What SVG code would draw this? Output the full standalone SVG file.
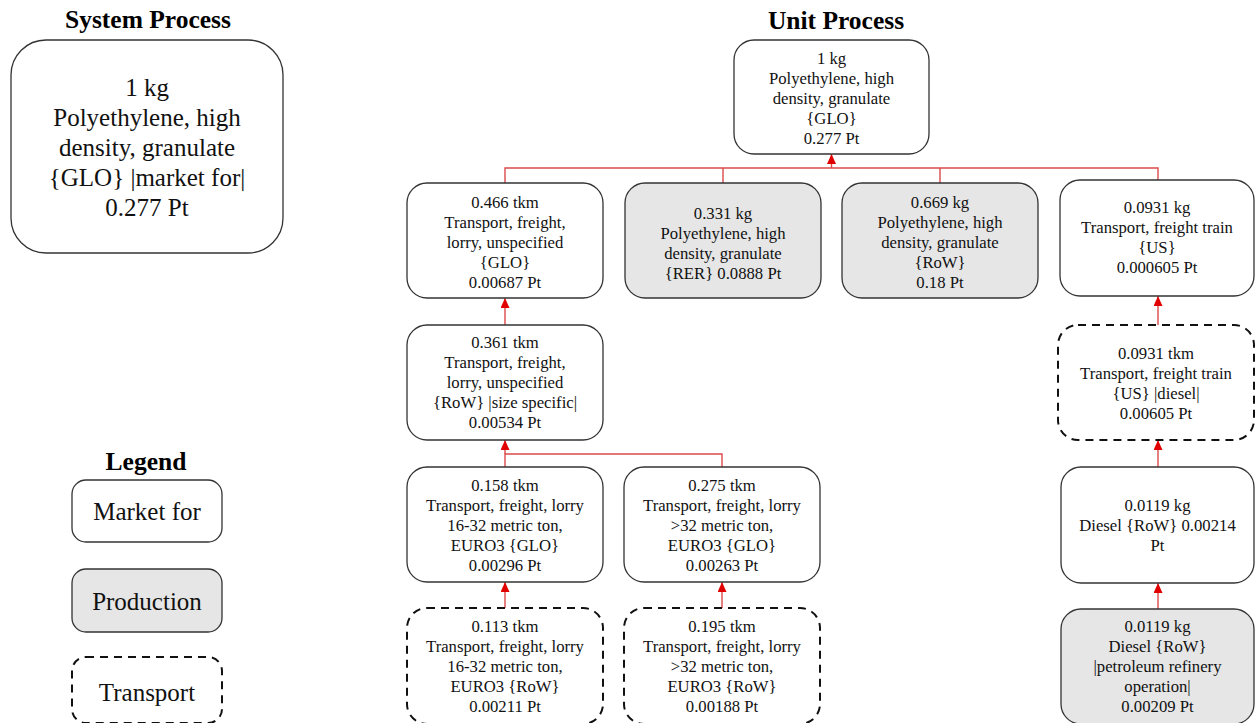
<svg xmlns="http://www.w3.org/2000/svg" width="1255" height="723" viewBox="0 0 1255 723">
<style>
  .box{fill:#ffffff;stroke:#333333;stroke-width:1.3}
  .prod{fill:#e6e6e6;stroke:#333333;stroke-width:1.3}
  .dash{fill:#ffffff;stroke:#111111;stroke-width:2;stroke-dasharray:8 6}
  .t{font-family:"Liberation Serif","Times New Roman",serif;font-size:16.7px;fill:#111111;text-anchor:middle}
  .big{font-family:"Liberation Serif","Times New Roman",serif;font-size:25px;fill:#111111;text-anchor:middle}
  .title{font-family:"Liberation Serif","Times New Roman",serif;font-size:25.5px;font-weight:bold;fill:#000000;text-anchor:middle}
  .conn{fill:none;stroke:#dc4a4a;stroke-width:1.4}
</style>
<defs>
  <marker id="arr" markerUnits="userSpaceOnUse" markerWidth="10" markerHeight="9" refX="10" refY="4.5" orient="auto" viewBox="0 0 10 9">
    <path d="M0,0 L10,4.5 L0,9 Z" fill="#e00000"/>
  </marker>
</defs>

<text class="title" x="148" y="28">System Process</text>
<text class="title" x="836" y="29">Unit Process</text>
<text class="title" x="146" y="470">Legend</text>

<g id="connectors">
  <path class="conn" d="M505,183 V168 H1158 V180"/>
  <path class="conn" d="M723,168 V183"/>
  <path class="conn" d="M940,168 V183"/>
  <line class="conn" x1="831.5" y1="168" x2="831.5" y2="154" marker-end="url(#arr)"/>
  <line class="conn" x1="505" y1="325" x2="505" y2="298" marker-end="url(#arr)"/>
  <path class="conn" d="M505,467 V454 H722 V467"/>
  <line class="conn" x1="505" y1="454" x2="505" y2="440" marker-end="url(#arr)"/>
  <line class="conn" x1="505" y1="608" x2="505" y2="582" marker-end="url(#arr)"/>
  <line class="conn" x1="722" y1="608" x2="722" y2="582" marker-end="url(#arr)"/>
  <line class="conn" x1="1158" y1="325" x2="1158" y2="296" marker-end="url(#arr)"/>
  <line class="conn" x1="1158" y1="467" x2="1158" y2="440" marker-end="url(#arr)"/>
  <line class="conn" x1="1158" y1="609" x2="1158" y2="583" marker-end="url(#arr)"/>
</g>

<g id="system-process">
  <rect class="box" x="11" y="40" width="272" height="213" rx="35"/>
  <text class="big" x="147" y="96">1 kg</text>
  <text class="big" x="147" y="126">Polyethylene, high</text>
  <text class="big" x="147" y="156">density, granulate</text>
  <text class="big" x="147" y="186">{GLO} |market for|</text>
  <text class="big" x="147" y="216">0.277 Pt</text>
</g>

<g id="legend-market">
  <rect class="box" x="72" y="480" width="150" height="62" rx="14"/>
  <text class="big" x="147" y="520">Market for</text>
</g>
<g id="legend-production">
  <rect class="prod" x="72" y="569" width="150" height="63" rx="14"/>
  <text class="big" x="147" y="610">Production</text>
</g>
<g id="legend-transport">
  <rect class="dash" x="72" y="657" width="150" height="66" rx="14"/>
  <text class="big" x="147" y="701">Transport</text>
</g>

<g id="n-top">
  <rect class="box" x="734" y="40" width="195" height="114" rx="20"/>
  <text class="t" x="831.5" y="64">1 kg</text>
  <text class="t" x="831.5" y="84">Polyethylene, high</text>
  <text class="t" x="831.5" y="104">density, granulate</text>
  <text class="t" x="831.5" y="124">{GLO}</text>
  <text class="t" x="831.5" y="144">0.277 Pt</text>
</g>

<g id="n-lorry-glo">
  <rect class="box" x="407" y="183" width="196" height="115" rx="20"/>
  <text class="t" x="505" y="208">0.466 tkm</text>
  <text class="t" x="505" y="228">Transport, freight,</text>
  <text class="t" x="505" y="248">lorry, unspecified</text>
  <text class="t" x="505" y="268">{GLO}</text>
  <text class="t" x="505" y="288">0.00687 Pt</text>
</g>

<g id="n-pe-rer">
  <rect class="prod" x="625" y="183" width="196" height="115" rx="20"/>
  <text class="t" x="723" y="219">0.331 kg</text>
  <text class="t" x="723" y="239">Polyethylene, high</text>
  <text class="t" x="723" y="259">density, granulate</text>
  <text class="t" x="723" y="279">{RER} 0.0888 Pt</text>
</g>

<g id="n-pe-row">
  <rect class="prod" x="842" y="183" width="196" height="115" rx="20"/>
  <text class="t" x="940" y="208">0.669 kg</text>
  <text class="t" x="940" y="228">Polyethylene, high</text>
  <text class="t" x="940" y="248">density, granulate</text>
  <text class="t" x="940" y="268">{RoW}</text>
  <text class="t" x="940" y="288">0.18 Pt</text>
</g>

<g id="n-train-us">
  <rect class="box" x="1060" y="180" width="194" height="116" rx="20"/>
  <text class="t" x="1157" y="213">0.0931 kg</text>
  <text class="t" x="1157" y="233">Transport, freight train</text>
  <text class="t" x="1157" y="253">{US}</text>
  <text class="t" x="1157" y="273">0.000605 Pt</text>
</g>

<g id="n-lorry-row">
  <rect class="box" x="407" y="325" width="196" height="115" rx="20"/>
  <text class="t" x="505" y="348">0.361 tkm</text>
  <text class="t" x="505" y="368">Transport, freight,</text>
  <text class="t" x="505" y="388">lorry, unspecified</text>
  <text class="t" x="505" y="408">{RoW} |size specific|</text>
  <text class="t" x="505" y="428">0.00534 Pt</text>
</g>

<g id="n-train-diesel">
  <rect class="dash" x="1058" y="325" width="196" height="115" rx="20"/>
  <text class="t" x="1156" y="359">0.0931 tkm</text>
  <text class="t" x="1156" y="379">Transport, freight train</text>
  <text class="t" x="1156" y="399">{US} |diesel|</text>
  <text class="t" x="1156" y="419">0.00605 Pt</text>
</g>

<g id="n-diesel-row">
  <rect class="box" x="1061" y="467" width="193" height="116" rx="20"/>
  <text class="t" x="1157.5" y="511">0.0119 kg</text>
  <text class="t" x="1157.5" y="531">Diesel {RoW} 0.00214</text>
  <text class="t" x="1157.5" y="551">Pt</text>
</g>

<g id="n-lorry1632-glo">
  <rect class="box" x="407" y="467" width="196" height="115" rx="20"/>
  <text class="t" x="505" y="491">0.158 tkm</text>
  <text class="t" x="505" y="511">Transport, freight, lorry</text>
  <text class="t" x="505" y="531">16-32 metric ton,</text>
  <text class="t" x="505" y="551">EURO3 {GLO}</text>
  <text class="t" x="505" y="571">0.00296 Pt</text>
</g>

<g id="n-lorry32-glo">
  <rect class="box" x="624" y="467" width="196" height="115" rx="20"/>
  <text class="t" x="722" y="491">0.275 tkm</text>
  <text class="t" x="722" y="511">Transport, freight, lorry</text>
  <text class="t" x="722" y="531">&gt;32 metric ton,</text>
  <text class="t" x="722" y="551">EURO3 {GLO}</text>
  <text class="t" x="722" y="571">0.00263 Pt</text>
</g>

<g id="n-lorry1632-row">
  <rect class="dash" x="407" y="608" width="196" height="116" rx="20"/>
  <text class="t" x="505" y="632">0.113 tkm</text>
  <text class="t" x="505" y="652">Transport, freight, lorry</text>
  <text class="t" x="505" y="672">16-32 metric ton,</text>
  <text class="t" x="505" y="692">EURO3 {RoW}</text>
  <text class="t" x="505" y="712">0.00211 Pt</text>
</g>

<g id="n-lorry32-row">
  <rect class="dash" x="624" y="608" width="196" height="116" rx="20"/>
  <text class="t" x="722" y="632">0.195 tkm</text>
  <text class="t" x="722" y="652">Transport, freight, lorry</text>
  <text class="t" x="722" y="672">&gt;32 metric ton,</text>
  <text class="t" x="722" y="692">EURO3 {RoW}</text>
  <text class="t" x="722" y="712">0.00188 Pt</text>
</g>

<g id="n-diesel-refinery">
  <rect class="prod" x="1061" y="609" width="193" height="115" rx="20"/>
  <text class="t" x="1157.5" y="632">0.0119 kg</text>
  <text class="t" x="1157.5" y="652">Diesel {RoW}</text>
  <text class="t" x="1157.5" y="672">|petroleum refinery</text>
  <text class="t" x="1157.5" y="692">operation|</text>
  <text class="t" x="1157.5" y="712">0.00209 Pt</text>
</g>
</svg>
